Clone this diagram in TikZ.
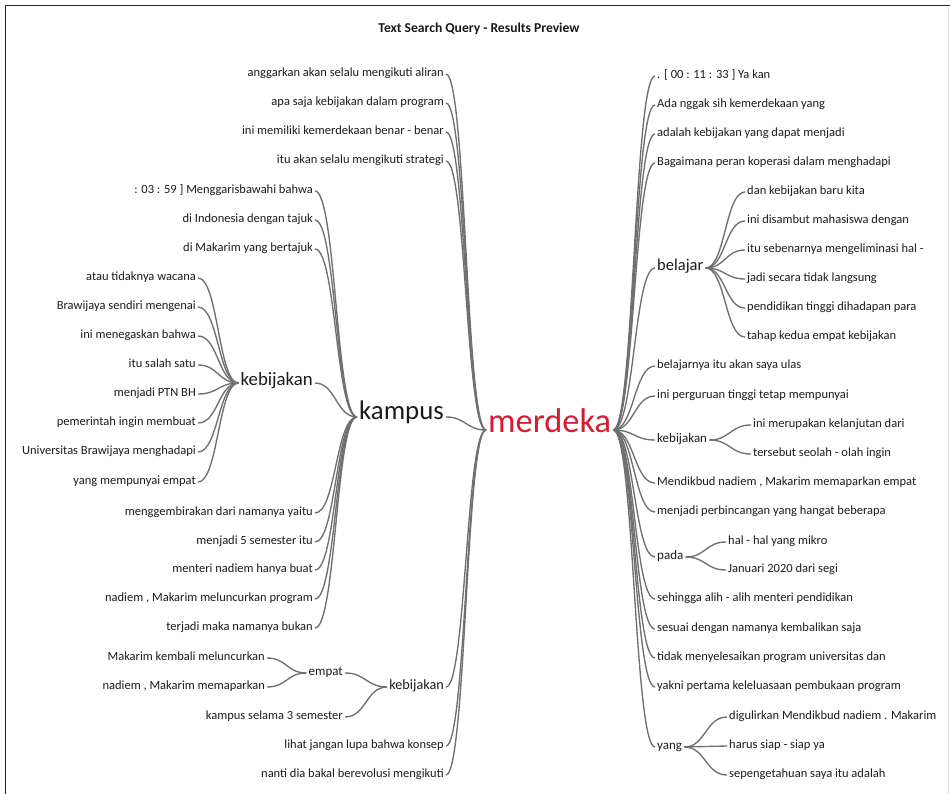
\documentclass[tikz,border=0pt]{standalone}
\usepackage{fontspec}
\setmainfont{Carlito}
\usetikzlibrary{calc}
\definecolor{txt}{RGB}{28,28,28}
\definecolor{lnk}{RGB}{112,112,112}
\definecolor{mred}{RGB}{214,28,48}
\begin{document}
\begin{tikzpicture}[x=1pt,y=-1pt,
  base/.style={inner xsep=2pt,inner ysep=0pt,text height=0.7em,text depth=0.2em,text=txt},
  leaf/.style={base,font=\fontsize{12.5}{14}\selectfont},
  lleaf/.style={leaf,anchor=east},
  rleaf/.style={leaf,anchor=west},
  mid/.style={base,font=\fontsize{13}{15}\selectfont},
  wt/.style={to path={let \p1=(\tikztostart),\p2=(\tikztotarget) in
     .. controls ({0.5*\x1+0.5*\x2},\y1) and ({0.5*\x1+0.5*\x2},\y2) .. (\tikztotarget)}},
  link/.style={draw=lnk,line width=1.35pt}]
\useasboundingbox (0,0) rectangle (950,794);
\fill[white] (0,0) rectangle (950,794);
% frame
\draw[line width=1.6pt,black!85] (5.5,794) -- (5.5,5.5) -- (950,5.5);
\draw[line width=0.6pt,black!12] (948,7) -- (948,794);
% title
\node[font=\bfseries\fontsize{13.6}{16}\selectfont,text=black!90] (title) at (479,29) {Text Search Query - Results Preview};

% root
\node[base,anchor=west,font=\fontsize{34.4}{40}\selectfont,text=mred] (merdeka) at (486,430) {merdeka};

% ---------- left side ----------
\node[base,anchor=east,font=\fontsize{26.8}{32}\selectfont] (kampus) at (446,417) {kampus};
\node[base,anchor=east,font=\fontsize{18.8}{22}\selectfont] (kebL) at (315,383) {kebijakan};
\node[base,anchor=east,font=\fontsize{14.2}{17}\selectfont] (kebB) at (446,687) {kebijakan};
\node[mid,anchor=east] (empat) at (345,673) {empat};

\node[lleaf] (a1) at (446,74) {anggarkan akan selalu mengikuti aliran};
\node[lleaf] (a2) at (446,103) {apa saja kebijakan dalam program};
\node[lleaf] (a3) at (446,132) {ini memiliki kemerdekaan benar - benar};
\node[lleaf] (a4) at (446,161) {itu akan selalu mengikuti strategi};

\node[lleaf] (b1) at (315,191) {: 03 : 59 ] Menggarisbawahi bahwa};
\node[lleaf] (b2) at (315,220) {di Indonesia dengan tajuk};
\node[lleaf] (b3) at (315,249) {di Makarim yang bertajuk};

\node[lleaf] (c1) at (198,278) {atau tidaknya wacana};
\node[lleaf] (c2) at (198,307) {Brawijaya sendiri mengenai};
\node[lleaf] (c3) at (198,336) {ini menegaskan bahwa};
\node[lleaf] (c4) at (198,365) {itu salah satu};
\node[lleaf] (c5) at (198,394) {menjadi PTN BH};
\node[lleaf] (c6) at (198,423) {pemerintah ingin membuat};
\node[lleaf] (c7) at (198,452) {Universitas Brawijaya menghadapi};
\node[lleaf] (c8) at (198,482) {yang mempunyai empat};

\node[lleaf] (d1) at (315,513) {menggembirakan dari namanya yaitu};
\node[lleaf] (d2) at (315,542) {menjadi 5 semester itu};
\node[lleaf] (d3) at (315,570) {menteri nadiem hanya buat};
\node[lleaf] (d4) at (315,599) {nadiem , Makarim meluncurkan program};
\node[lleaf] (d5) at (315,628) {terjadi maka namanya bukan};

\node[lleaf] (e1) at (267,658) {Makarim kembali meluncurkan};
\node[lleaf] (e2) at (267,687) {nadiem , Makarim memaparkan};
\node[lleaf] (e3) at (345,717) {kampus selama 3 semester};

\node[lleaf] (f1) at (446,746) {lihat jangan lupa bahwa konsep};
\node[lleaf] (f2) at (446,775) {nanti dia bakal berevolusi mengikuti};

% ---------- right side ----------
\node[rleaf] (r1) at (655,76) {. [ 00 : 11 : 33 ] Ya kan};
\node[rleaf] (r2) at (655,105) {Ada nggak sih kemerdekaan yang};
\node[rleaf] (r3) at (655,134) {adalah kebijakan yang dapat menjadi};
\node[rleaf] (r4) at (655,163) {Bagaimana peran koperasi dalam menghadapi};

\node[base,anchor=west,font=\fontsize{16.5}{20}\selectfont] (belajar) at (655,268) {belajar};
\node[rleaf] (bj1) at (745,192) {dan kebijakan baru kita};
\node[rleaf] (bj2) at (745,221) {ini disambut mahasiswa dengan};
\node[rleaf] (bj3) at (745,250) {itu sebenarnya mengeliminasi hal -};
\node[rleaf] (bj4) at (745,279) {jadi secara tidak langsung};
\node[rleaf] (bj5) at (745,308) {pendidikan tinggi dihadapan para};
\node[rleaf] (bj6) at (745,337) {tahap kedua empat kebijakan};

\node[rleaf] (r5) at (655,366) {belajarnya itu akan saya ulas};
\node[rleaf] (r6) at (655,396) {ini perguruan tinggi tetap mempunyai};

\node[mid,anchor=west] (kebR) at (655,440) {kebijakan};
\node[rleaf] (k1) at (751,425) {ini merupakan kelanjutan dari};
\node[rleaf] (k2) at (751,454) {tersebut seolah - olah ingin};

\node[rleaf] (r7) at (655,483) {Mendikbud nadiem , Makarim memaparkan empat};
\node[rleaf] (r8) at (655,512) {menjadi perbincangan yang hangat beberapa};

\node[mid,anchor=west] (pada) at (655,557) {pada};
\node[rleaf] (p1) at (726,542) {hal - hal yang mikro};
\node[rleaf] (p2) at (726,570) {Januari 2020 dari segi};

\node[rleaf] (r9) at (655,599) {sehingga alih - alih menteri pendidikan};
\node[rleaf] (r10) at (655,629) {sesuai dengan namanya kembalikan saja};
\node[rleaf] (r11) at (655,658) {tidak menyelesaikan program universitas dan};
\node[rleaf] (r12) at (655,687) {yakni pertama keleluasaan pembukaan program};

\node[mid,anchor=west] (yang) at (655,747) {yang};
\node[rleaf] (y1) at (727,717) {digulirkan Mendikbud nadiem . Makarim};
\node[rleaf] (y2) at (727,746) {harus siap - siap ya};
\node[rleaf] (y3) at (727,775) {sepengetahuan saya itu adalah};

% ---------- connectors ----------
\foreach \nd in {a1,a2,a3,a4,kampus,kebB,f1,f2}
  \draw[link] (\nd.east) to[wt] (merdeka.west);
\foreach \nd in {b1,b2,b3,kebL,d1,d2,d3,d4,d5}
  \draw[link] (\nd.east) to[wt] (kampus.west);
\foreach \nd in {c1,c2,c3,c4,c5,c6,c7,c8}
  \draw[link] (\nd.east) to[wt] (kebL.west);
\foreach \nd in {e1,e2}
  \draw[link] (\nd.east) to[wt] (empat.west);
\foreach \nd in {empat,e3}
  \draw[link] (\nd.east) to[wt] (kebB.west);

\foreach \nd in {r1,r2,r3,r4,belajar,r5,r6,kebR,r7,r8,pada,r9,r10,r11,r12,yang}
  \draw[link] (merdeka.east) to[wt] (\nd.west);
\foreach \nd in {bj1,bj2,bj3,bj4,bj5,bj6}
  \draw[link] (belajar.east) to[wt] (\nd.west);
\foreach \nd in {k1,k2}
  \draw[link] (kebR.east) to[wt] (\nd.west);
\foreach \nd in {p1,p2}
  \draw[link] (pada.east) to[wt] (\nd.west);
\foreach \nd in {y1,y2,y3}
  \draw[link] (yang.east) to[wt] (\nd.west);
\end{tikzpicture}
\end{document}
